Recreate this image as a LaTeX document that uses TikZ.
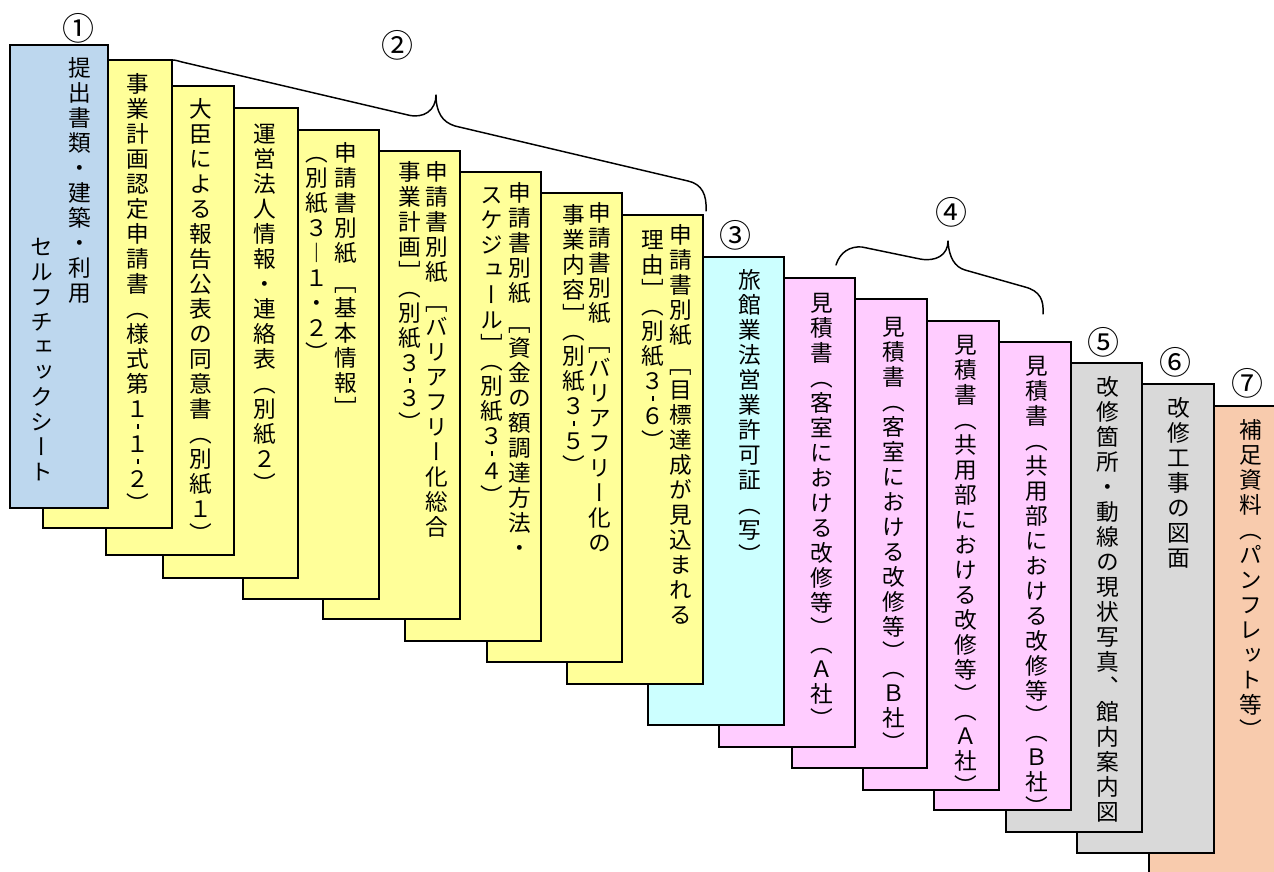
\documentclass[tikz,border=0pt]{standalone}
\usepackage{fontspec}
\newfontfamily\vjp[RawFeature=+vert]{Noto Sans CJK JP}
\newfontfamily\jp{Noto Sans CJK JP}
\definecolor{cblue}{HTML}{BDD7EE}
\definecolor{cyel}{HTML}{FFFF99}
\definecolor{ccyan}{HTML}{CCFFFF}
\definecolor{cpink}{HTML}{FFCCFF}
\definecolor{cgray}{HTML}{D9D9D9}
\definecolor{corange}{HTML}{F8CBAD}
\newlength\vpitch \setlength\vpitch{18.75pt}
\newlength\vcw \setlength\vcw{17pt}
\def\hy{H}\def\gp{G}\def\cp{C}
\def\vcell#1{%
  \ifx#1\hy
    \vskip-.3\vpitch
    \hbox to\vcw{\hss\vrule width 1pt height 8.5pt depth -4.5pt\hss}%
    \vskip-.3\vpitch
  \else\ifx#1\gp
    \vskip.2\vpitch
  \else\ifx#1\cp
    \vskip-.35\vpitch
  \else
    \hbox to\vcw{\hss#1\hss}%
  \fi\fi\fi}
\def\vtl#1{\ifx#1\relax\else\vcell#1\expandafter\vtl\fi}
\newcommand\vstack[1]{\vbox{\vjp\fontsize{17pt}{18.75pt}\selectfont
  \baselineskip=\vpitch\lineskiplimit=-\maxdimen\lineskip=0pt
  \hbox{}\vtl#1\relax}}
\tikzset{
  card/.style={draw=black,line width=1.1pt},
  vcol/.style={inner sep=0pt,outer sep=0pt,anchor=north,text=black},
  num/.style={inner sep=0pt,font=\jp\fontsize{24pt}{26pt}\selectfont,text=black},
  brace/.style={draw=black,line width=1.1pt,line cap=round,line join=round}
}
\newcommand\vcol[4]{\node[vcol] (#1) at (#2,#3-16.4) {\vstack{#4}};}
\begin{document}
\begin{tikzpicture}[x=0.75pt,y=-0.75pt]
\useasboundingbox (0,0) rectangle (1274,871);
\fill[white] (0,0) rectangle (1274,871);
\clip (0,0) rectangle (1274,871);
% card 17
\draw[card,fill=corange] (1149,406) rectangle (1290,880);
\vcol{t17}{1251}{430}{補足資料（パンフレット等）}
% card 16
\draw[card,fill=cgray] (1077,384) rectangle (1214,853);
\vcol{t16}{1179}{408}{改修工事の図面}
% card 15
\draw[card,fill=cgray] (1006,363) rectangle (1142,832);
\vcol{t15}{1108}{387}{改修箇所・動線の現状写真、館内案内図}
% card 14
\draw[card,fill=cpink] (934,342) rectangle (1071,810);
\vcol{t14}{1037}{366}{見積書（共用部における改修等）\cp（Ｂ社）}
% card 13
\draw[card,fill=cpink] (863,321) rectangle (999,790);
\vcol{t13}{966}{345}{見積書（共用部における改修等）\cp（Ａ社）}
% card 12
\draw[card,fill=cpink] (792,299) rectangle (927,768);
\vcol{t12}{894}{327}{見積書（客室における改修等）\cp（Ｂ社）}
% card 11
\draw[card,fill=cpink] (719,278) rectangle (855,747);
\vcol{t11}{822}{303}{見積書（客室における改修等）\cp（Ａ社）}
% card 10
\draw[card,fill=ccyan] (648,257) rectangle (784,725);
\vcol{t10}{750}{280}{旅館業法営業許可証（写）}
% card 9
\draw[card,fill=cyel] (567,215) rectangle (703,684);
\vcol{t9a}{681}{235}{申請書別紙\gp［目標達成が見込まれる}
\vcol{t9b}{653}{240}{理由］\cp（別紙３\hy６）}
% card 8
\draw[card,fill=cyel] (487,193) rectangle (622,662);
\vcol{t8a}{600}{213}{申請書別紙\gp［バリアフリー化の}
\vcol{t8b}{574}{215}{事業内容］\cp（別紙３\hy５）}
% card 7
\draw[card,fill=cyel] (405,172) rectangle (541,641);
\vcol{t7a}{520}{193}{申請書別紙\gp［資金の額調達方法・}
\vcol{t7b}{492}{195}{スケジュール］\cp（別紙３\hy４）}
% card 6
\draw[card,fill=cyel] (323,151) rectangle (460,619);
\vcol{t6a}{437}{172}{申請書別紙\gp［バリアフリー化総合}
\vcol{t6b}{410}{172}{事業計画］\cp（別紙３\hy３）}
% card 5
\draw[card,fill=cyel] (243,130) rectangle (379,599);
\vcol{t5a}{346}{153}{申請書別紙\gp［基本情報］}
\vcol{t5b}{317}{153}{（別紙３︱１・２）}
% card 4
\draw[card,fill=cyel] (163,108) rectangle (298,578);
\vcol{t4}{265}{134}{運営法人情報・連絡表（別紙２）}
% card 3
\draw[card,fill=cyel] (106,86) rectangle (234,555);
\vcol{t3}{201}{109}{大臣による報告公表の同意書（別紙１）}
% card 2
\draw[card,fill=cyel] (43,60) rectangle (172,528);
\vcol{t2}{138}{84}{事業計画認定申請書（様式第１\hy１\hy２）}
% card 1
\draw[card,fill=cblue] (10,45) rectangle (108,508);
\vcol{t1a}{80}{68}{提出書類・建築・利用}
\vcol{t1b}{42}{247}{セルフチェックシート}
% braces
\draw[brace] (172,60) .. controls (176,60) and (178,61) .. (182,62) -- (408,115)
  .. controls (424,119) and (436,110) .. (436,95)
  .. controls (436,112) and (442,122) .. (455,126) -- (688,181)
  .. controls (702,184) and (707,195) .. (706,211);
\draw[brace] (836,265) .. controls (840,252) and (850,246) .. (862,247) -- (920,259)
  .. controls (936,262) and (948,255) .. (948,241)
  .. controls (949,258) and (955,267) .. (965,270) -- (1025,287)
  .. controls (1040,291) and (1044,300) .. (1043,314);
% numbers
\node[num] (n1) at (78,28) {①};
\node[num] (n2) at (397,45) {②};
\node[num] (n3) at (735,235) {③};
\node[num] (n4) at (951,212) {④};
\node[num] (n5) at (1103,342) {⑤};
\node[num] (n6) at (1175,362) {⑥};
\node[num] (n7) at (1247,383) {⑦};
\end{tikzpicture}
\end{document}
